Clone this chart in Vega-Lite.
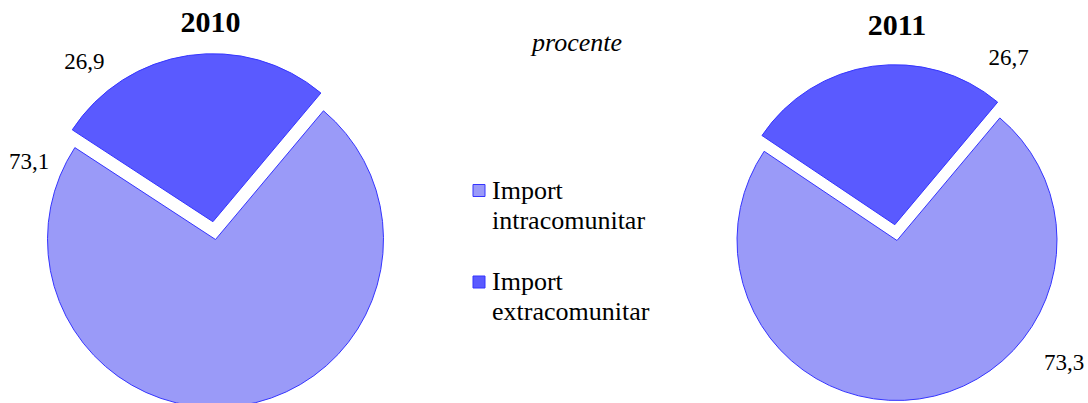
{
  "$schema": "https://vega.github.io/schema/vega-lite/v6.json",
  "padding": {"top": 7, "left": 0, "right": 0, "bottom": 0},
  "spacing": 0,
  "bounds": "flush",
  "background": "white",
  "config": {"view": {"stroke": null}, "font": "Liberation Serif"},
  "data": {"values": [
    {"year": "2010", "cat": "Import intracomunitar", "value": 73.1},
    {"year": "2010", "cat": "Import extracomunitar", "value": 26.9},
    {"year": "2011", "cat": "Import intracomunitar", "value": 73.3},
    {"year": "2011", "cat": "Import extracomunitar", "value": 26.7}
  ]},
  "hconcat": [
    {
      "width": 431,
      "height": 281,
      "title": {"text": "2010", "fontSize": 30, "fontWeight": "bold", "font": "Liberation Serif", "color": "black", "frame": "group", "baseline": "alphabetic", "offset": -11, "anchor": "middle", "dx": -5},
      "transform": [
        {"filter": "datum.year == '2010'"},
        {"stack": "value", "groupby": ["year"], "sort": [{"field": "cat", "order": "descending"}], "as": ["s0", "s1"]},
        {"calculate": "(datum.s0 + datum.s1) / 2", "as": "mid"},
        {"calculate": "replace(format(datum.value, '.1f'), '.', ',')", "as": "label"}
      ],
      "layer": [
        {
          "transform": [{"filter": "datum.cat == 'Import intracomunitar'"}],
          "mark": {"type": "arc", "outerRadius": 168, "stroke": "#3535ff", "strokeWidth": 1},
          "encoding": {
            "theta": {"field": "s0", "type": "quantitative", "scale": {"domain": [0, 100], "range": [0.6981, 6.9813]}},
            "theta2": {"field": "s1"},
            "color": {"field": "cat", "type": "nominal", "scale": {"domain": ["Import intracomunitar", "Import extracomunitar"], "range": ["#9a9af8", "#5a5aff"]}, "legend": null}
          }
        },
        {
          "transform": [{"filter": "datum.cat == 'Import extracomunitar'"}],
          "mark": {"type": "arc", "outerRadius": 168, "stroke": "#3535ff", "strokeWidth": 1, "xOffset": -2.6, "yOffset": -17.8},
          "encoding": {
            "theta": {"field": "s0", "type": "quantitative", "scale": {"domain": [0, 100], "range": [0.6981, 6.9813]}},
            "theta2": {"field": "s1"},
            "color": {"field": "cat", "type": "nominal", "scale": {"domain": ["Import intracomunitar", "Import extracomunitar"], "range": ["#9a9af8", "#5a5aff"]}, "legend": null}
          }
        },
        {
          "transform": [{"filter": "datum.cat == 'Import intracomunitar'"}],
          "mark": {"type": "text", "radius": 202, "thetaOffset": 2.114, "fontSize": 23, "font": "Liberation Serif", "color": "black"},
          "encoding": {
            "theta": {"field": "mid", "type": "quantitative", "scale": {"domain": [0, 100], "range": [0.6981, 6.9813]}},
            "text": {"field": "label"}
          }
        },
        {
          "transform": [{"filter": "datum.cat == 'Import extracomunitar'"}],
          "mark": {"type": "text", "radius": 205, "thetaOffset": -0.53, "xOffset": -2.6, "yOffset": -17.8, "fontSize": 23, "font": "Liberation Serif", "color": "black"},
          "encoding": {
            "theta": {"field": "mid", "type": "quantitative", "scale": {"domain": [0, 100], "range": [0.6981, 6.9813]}},
            "text": {"field": "label"}
          }
        }
      ]
    },
    {
      "width": 96,
      "height": 274.5,
      "title": {"text": "procente", "fontStyle": "italic", "fontWeight": "normal", "fontSize": 26, "font": "Liberation Serif", "color": "black", "frame": "group", "baseline": "alphabetic", "offset": 22.5, "anchor": "middle", "dx": 98},
      "transform": [{"filter": "datum.year == '2010'"}],
      "encoding": {
        "y": {"field": "cat", "type": "nominal", "sort": ["Import intracomunitar", "Import extracomunitar"], "scale": {"type": "point", "padding": 1}, "axis": null}
      },
      "layer": [
        {
          "mark": {"type": "square", "size": 144, "filled": true, "opacity": 1, "stroke": "#3535ff", "strokeWidth": 1},
          "encoding": {
            "color": {"field": "cat", "type": "nominal", "scale": {"domain": ["Import intracomunitar", "Import extracomunitar"], "range": ["#9a9af8", "#5a5aff"]}, "legend": null}
          }
        },
        {
          "mark": {"type": "text", "align": "left", "baseline": "alphabetic", "dx": 13, "dy": 8, "lineBreak": " ", "lineHeight": 30, "fontSize": 26, "font": "Liberation Serif", "color": "black"},
          "encoding": {"text": {"field": "cat"}}
        }
      ]
    },
    {
      "width": 740,
      "height": 283,
      "title": {"text": "2011", "fontSize": 30, "fontWeight": "bold", "font": "Liberation Serif", "color": "black", "frame": "group", "baseline": "alphabetic", "offset": -18, "anchor": "middle", "dx": 0},
      "transform": [
        {"filter": "datum.year == '2011'"},
        {"stack": "value", "groupby": ["year"], "sort": [{"field": "cat", "order": "descending"}], "as": ["s0", "s1"]},
        {"calculate": "(datum.s0 + datum.s1) / 2", "as": "mid"},
        {"calculate": "replace(format(datum.value, '.1f'), '.', ',')", "as": "label"}
      ],
      "layer": [
        {
          "transform": [{"filter": "datum.cat == 'Import intracomunitar'"}],
          "mark": {"type": "arc", "outerRadius": 160, "stroke": "#3535ff", "strokeWidth": 1},
          "encoding": {
            "theta": {"field": "s0", "type": "quantitative", "scale": {"domain": [0, 100], "range": [0.6981, 6.9813]}},
            "theta2": {"field": "s1"},
            "color": {"field": "cat", "type": "nominal", "scale": {"domain": ["Import intracomunitar", "Import extracomunitar"], "range": ["#9a9af8", "#5a5aff"]}, "legend": null}
          }
        },
        {
          "transform": [{"filter": "datum.cat == 'Import extracomunitar'"}],
          "mark": {"type": "arc", "outerRadius": 160, "stroke": "#3535ff", "strokeWidth": 1, "xOffset": -2.2, "yOffset": -15.8},
          "encoding": {
            "theta": {"field": "s0", "type": "quantitative", "scale": {"domain": [0, 100], "range": [0.6981, 6.9813]}},
            "theta2": {"field": "s1"},
            "color": {"field": "cat", "type": "nominal", "scale": {"domain": ["Import intracomunitar", "Import extracomunitar"], "range": ["#9a9af8", "#5a5aff"]}, "legend": null}
          }
        },
        {
          "transform": [{"filter": "datum.cat == 'Import intracomunitar'"}],
          "mark": {"type": "text", "radius": 207, "thetaOffset": -0.798, "fontSize": 23, "font": "Liberation Serif", "color": "black"},
          "encoding": {
            "theta": {"field": "mid", "type": "quantitative", "scale": {"domain": [0, 100], "range": [0.6981, 6.9813]}},
            "text": {"field": "label"}
          }
        },
        {
          "transform": [{"filter": "datum.cat == 'Import extracomunitar'"}],
          "mark": {"type": "text", "radius": 202, "thetaOffset": 0.740, "xOffset": -2.2, "yOffset": -15.8, "fontSize": 23, "font": "Liberation Serif", "color": "black"},
          "encoding": {
            "theta": {"field": "mid", "type": "quantitative", "scale": {"domain": [0, 100], "range": [0.6981, 6.9813]}},
            "text": {"field": "label"}
          }
        }
      ]
    }
  ]
}
